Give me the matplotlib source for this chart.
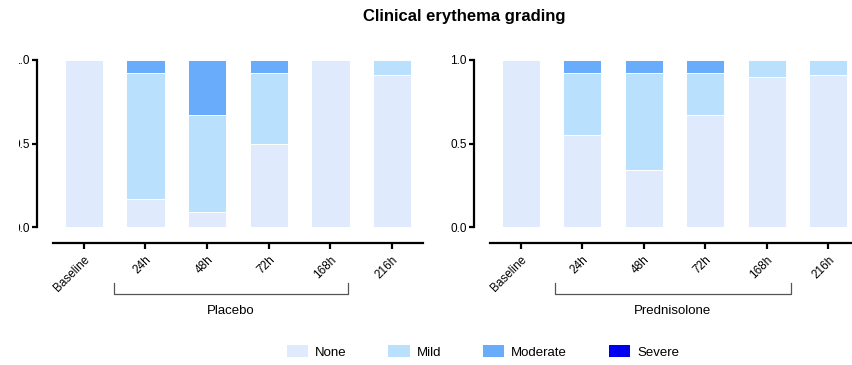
import matplotlib
matplotlib.use("Agg")
import matplotlib.pyplot as plt
import matplotlib.transforms as mtransforms
from matplotlib.patches import Patch
import numpy as np

plt.rcParams['font.family'] = ['Liberation Sans', 'DejaVu Sans']

timepoints = ['Baseline', '24h', '48h', '72h', '168h', '216h']
grades = ['None', 'Mild', 'Moderate', 'Severe']
grade_colors = ['#DFEBFC', '#B9E0FD', '#6AACFC', '#0000F0']

# fraction of subjects per grade at each timepoint
placebo_none = [1.00, 0.17, 0.09, 0.50, 1.00, 0.91]
placebo_mild = [0.00, 0.75, 0.58, 0.42, 0.00, 0.09]
placebo_moderate = [0.00, 0.08, 0.33, 0.08, 0.00, 0.00]
placebo_severe = [0.00, 0.00, 0.00, 0.00, 0.00, 0.00]

pred_none = [1.00, 0.55, 0.34, 0.67, 0.90, 0.91]
pred_mild = [0.00, 0.37, 0.58, 0.25, 0.10, 0.09]
pred_moderate = [0.00, 0.08, 0.08, 0.08, 0.00, 0.00]
pred_severe = [0.00, 0.00, 0.00, 0.00, 0.00, 0.00]

W, H = 853, 365
OFFSET = 16 * 72 / 100  # 16 px gap between spines and data area, in points


def fx(px):
    return px / W


def fy(py):
    return (H - py) / H


def stacked_panel(ax, series, group_name, bracket):
    x = np.arange(len(timepoints))
    bottom = np.zeros(len(timepoints))
    for vals, col in zip(series, grade_colors):
        vals = np.array(vals)
        ax.bar(x, vals, width=0.62, bottom=bottom, color=col,
               edgecolor='white', linewidth=0.7)
        bottom += vals

    ax.set_xlim(-0.5, len(timepoints) - 0.5)
    ax.set_ylim(0, 1)
    ax.set_yticks([0, 0.5, 1.0])
    ax.set_yticklabels(['0.0', '0.5', '1.0'])
    ax.set_xticks(x)
    ax.set_xticklabels(timepoints)

    for s in ['top', 'right']:
        ax.spines[s].set_visible(False)
    ax.spines['left'].set_position(('outward', OFFSET))
    ax.spines['bottom'].set_position(('outward', OFFSET))
    for s in ['left', 'bottom']:
        ax.spines[s].set_linewidth(1.6)
    ax.tick_params(axis='y', length=3.6, width=1.6, pad=1.5, labelsize=8.5)
    ax.tick_params(axis='x', length=4.5, width=1.6, pad=3.5, labelsize=8.5)
    plt.setp(ax.get_xticklabels(), rotation=45, ha='right', va='top',
             rotation_mode='anchor')

    # group bracket under the rotated labels
    trans = mtransforms.blended_transform_factory(ax.transData, ax.transAxes)
    x0, x1 = bracket
    ax.plot([x0, x0, x1, x1], [-0.335, -0.401, -0.401, -0.335], color='#555555',
            linewidth=0.9, transform=trans, clip_on=False)
    ax.text((x0 + x1) / 2, -0.505, group_name, transform=trans, ha='center',
            va='center', fontsize=9.5)


fig = plt.figure(figsize=(W / 100, H / 100), dpi=100)

ax1 = fig.add_axes([fx(53), fy(227), 370 / W, 167 / H])
ax2 = fig.add_axes([fx(490), fy(227), 369 / W, 167 / H])

stacked_panel(ax1, [placebo_none, placebo_mild, placebo_moderate, placebo_severe],
              'Placebo', (0.485, 4.29))
stacked_panel(ax2, [pred_none, pred_mild, pred_moderate, pred_severe],
              'Prednisolone', (0.56, 4.39))

# left panel's y labels run off the page edge
edge_clip = mtransforms.TransformedBbox(
    mtransforms.Bbox.from_extents(19 / W, 0, 1, 1), fig.transFigure)
for lab in ax1.get_yticklabels():
    lab.set_clip_box(edge_clip)
    lab.set_clip_on(True)

fig.text(fx(464), fy(17), 'Clinical erythema grading', ha='center', va='center',
         fontsize=12, fontweight='bold')

handles = [Patch(facecolor=c, edgecolor='none') for c in grade_colors]
fig.legend(handles, grades, loc='center', bbox_to_anchor=(fx(483), fy(352)),
           ncol=4, frameon=False, fontsize=9.5, handlelength=1.6,
           handleheight=1.0, handletextpad=0.55, columnspacing=3.15)

fig.savefig('out.png', dpi=100)
